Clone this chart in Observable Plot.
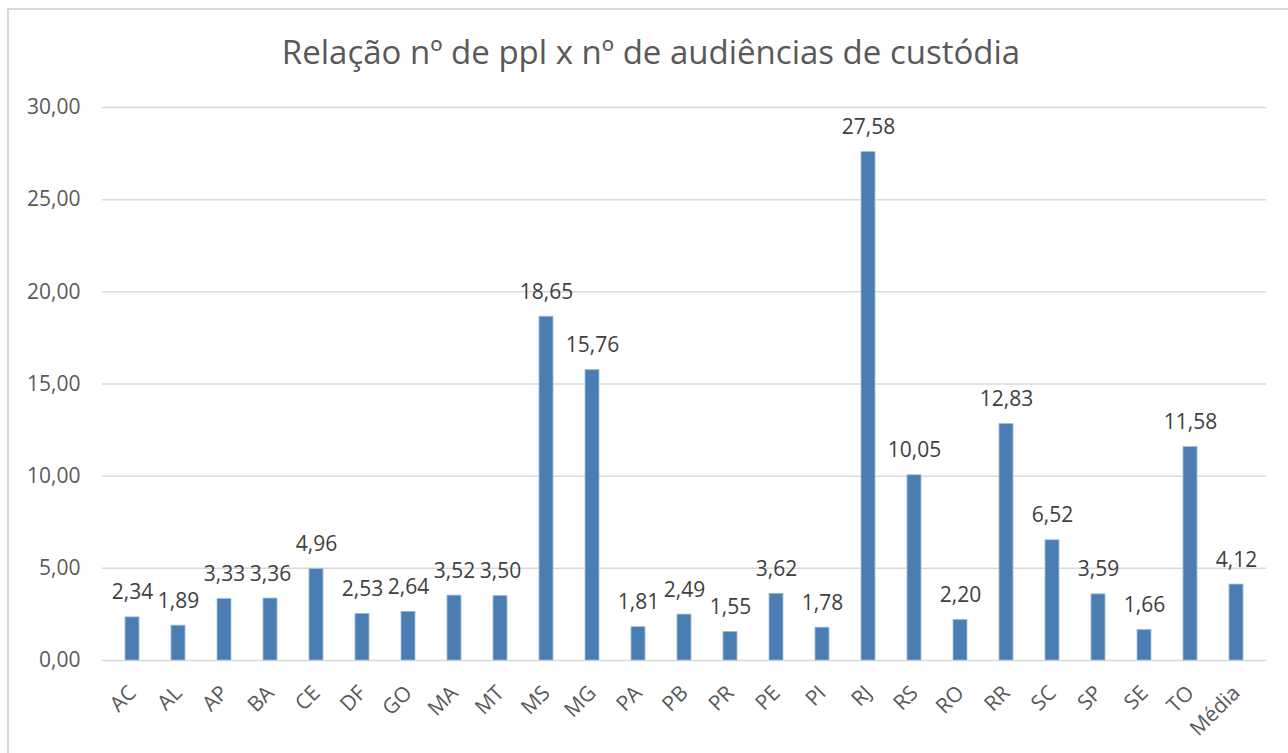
<!DOCTYPE html>
<html>
<head>
<meta charset="utf-8">
<script src="https://cdn.jsdelivr.net/npm/d3@7"></script>
<script src="https://cdn.jsdelivr.net/npm/@observablehq/plot@0.6"></script>
<style>
  html, body { margin: 0; padding: 0; background: #fff; }
  body { width: 1288px; height: 753px; overflow: hidden; position: relative; font-family: "Open Sans", sans-serif; }
  #frame { position: absolute; left: 7px; top: 8px; width: 1300px; height: 760px;
           border-left: 2px solid #d9d9d9; border-top: 2px solid #d9d9d9; pointer-events: none; }
  #title { height: 58px; padding-top: 32px; padding-left: 14px; line-height: 40px; text-align: center;
           font-size: 33px; font-weight: 400; color: #595959; font-family: "Open Sans", sans-serif; }
  #chart svg { display: block; }
</style>
</head>
<body>
<div id="frame"></div>
<div id="title">Relação nº de ppl x nº de audiências de custódia</div>
<div id="chart"></div>
<script>
const categories = ["AC","AL","AP","BA","CE","DF","GO","MA","MT","MS","MG","PA","PB","PR","PE","PI","RJ","RS","RO","RR","SC","SP","SE","TO","Média"];
const values = [2.34,1.89,3.33,3.36,4.96,2.53,2.64,3.52,3.50,18.65,15.76,1.81,2.49,1.55,3.62,1.78,27.58,10.05,2.20,12.83,6.52,3.59,1.66,11.58,4.12];
const yTicks = [0,5,10,15,20,25,30];

const data = categories.map((c, i) => ({uf: c, v: values[i]}));
const fmt = v => v.toFixed(2).replace(".", ",");

const chart = Plot.plot({
  width: 1288,
  height: 663,
  marginTop: 17,
  marginBottom: 93,
  marginLeft: 102,
  marginRight: 22,
  style: {fontFamily: "'Open Sans', sans-serif", background: "#fff"},
  x: {domain: categories, paddingInner: 0.69, paddingOuter: 0.345, label: null, axis: null},
  y: {domain: [0, 30], label: null},
  marks: [
    Plot.gridY(yTicks, {stroke: "#d9d9d9", strokeOpacity: 1, strokeWidth: 1.5}),
    Plot.axisY(yTicks, {tickFormat: fmt, tickSize: 0, tickPadding: 22, fontSize: 21, fill: "#595959", label: null}),
    Plot.barY(data, {x: "uf", y: "v", fill: "#4a7db1", stroke: "#a3bedc", strokeWidth: 0.8}),
    Plot.text(data, {x: "uf", y: "v", text: d => fmt(d.v), dy: -18, lineAnchor: "bottom", fontSize: 21, fill: "#404040"}),
    Plot.text(categories, {x: d => d, frameAnchor: "bottom", text: d => d, rotate: -45, textAnchor: "end",
      lineAnchor: "middle", dx: 0, dy: 29, fontSize: 21, fill: "#595959"})
  ]
});
document.getElementById("chart").appendChild(chart);
</script>
</body>
</html>
